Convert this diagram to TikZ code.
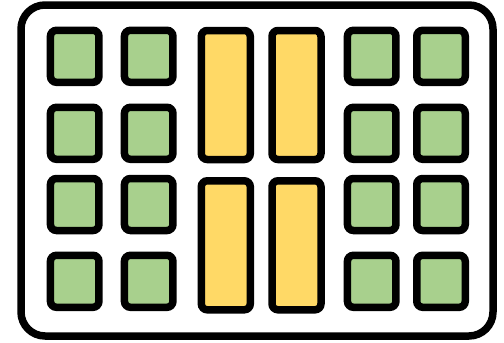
\documentclass[tikz,border=0pt]{standalone}
\usepackage{xcolor}
\usepackage{tikz}
\definecolor{keygreen}{RGB}{168,208,141}
\definecolor{keyyellow}{RGB}{255,217,102}
\tikzset{
  frame/.style={draw, line width=7.5pt, rounded corners=24pt, fill=white, inner sep=0pt,
                minimum width=472pt, minimum height=331pt},
  gkey/.style={draw, line width=7.5pt, rounded corners=6pt, fill=keygreen, inner sep=0pt,
               minimum width=48.5pt, minimum height=52pt},
  ykey/.style={draw, line width=7.5pt, rounded corners=6pt, fill=keyyellow, inner sep=0pt,
               minimum width=49pt, minimum height=129pt},
}

\begin{document}
\begin{tikzpicture}[x=1pt, y=-1pt]
  \useasboundingbox (0,0) rectangle (504,343);
  \node[frame] (pad) at (257,170.5) {};
  % left block
  \node[gkey] (g11) at (74.7,56.3) {};
  \node[gkey] (g12) at (148.7,56.3) {};
  \node[gkey] (g21) at (74.7,133.3) {};
  \node[gkey] (g22) at (148.7,133.3) {};
  \node[gkey] (g31) at (74.7,204.5) {};
  \node[gkey] (g32) at (148.7,204.5) {};
  \node[gkey] (g41) at (74.7,281.3) {};
  \node[gkey] (g42) at (148.7,281.3) {};
  % middle bars
  \node[ykey] (y11) at (225.8,95) {};
  \node[ykey] (y12) at (296.5,95) {};
  \node[ykey] (y21) at (225.8,245.3) {};
  \node[ykey] (y22) at (296.5,245.3) {};
  % right block
  \node[gkey] (g15) at (371.7,56.3) {};
  \node[gkey] (g16) at (441,56.3) {};
  \node[gkey] (g25) at (371.7,133.3) {};
  \node[gkey] (g26) at (441,133.3) {};
  \node[gkey] (g35) at (371.7,204.5) {};
  \node[gkey] (g36) at (441,204.5) {};
  \node[gkey] (g45) at (371.7,281.3) {};
  \node[gkey] (g46) at (441,281.3) {};
\end{tikzpicture}
\end{document}
